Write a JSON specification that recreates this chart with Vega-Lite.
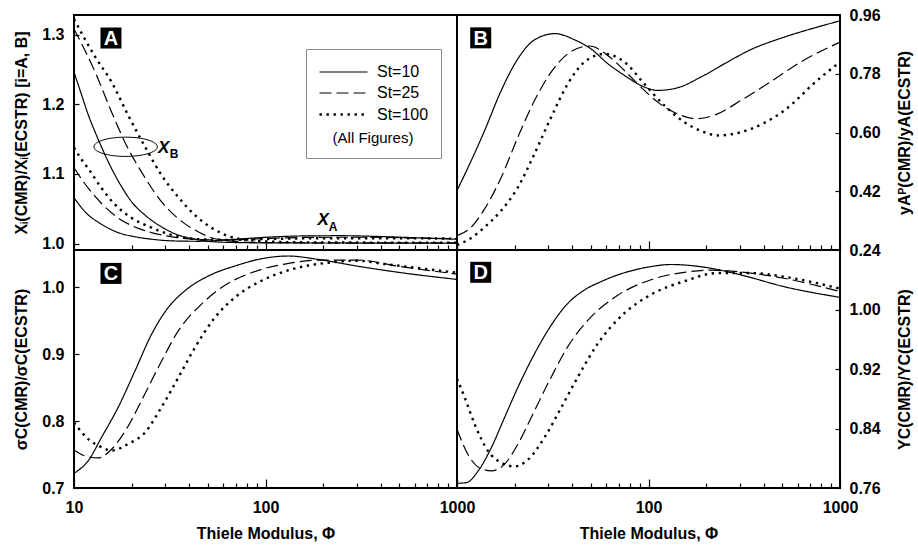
{
  "$schema": "https://vega.github.io/schema/vega-lite/v6.json",
  "background": "white",
  "padding": {"left": 12, "top": 6, "right": 2, "bottom": 5},
  "config": {
    "view": {"stroke": "black", "strokeWidth": 2},
    "font": "Liberation Sans",
    "axis": {
      "domain": false, "grid": false,
      "labelFont": "Liberation Sans", "labelFontSize": 16, "labelFontWeight": "bold", "labelColor": "black",
      "titleFont": "Liberation Sans", "titleFontSize": 16, "titleFontWeight": "bold", "titleColor": "black",
      "tickColor": "black", "tickWidth": 1.2, "labelOverlap": false, "labelFlush": false
    },
    "line": {"color": "black", "interpolate": "monotone", "clip": true}
  },
  "datasets": {
    "A": [
      {"phi":10,"v":1.246,"st":"St=10","var":"XB"},{"phi":10.97,"v":1.213,"st":"St=10","var":"XB"},{"phi":11.9,"v":1.184,"st":"St=10","var":"XB"},{"phi":12.9,"v":1.16,"st":"St=10","var":"XB"},{"phi":13.9,"v":1.139,"st":"St=10","var":"XB"},{"phi":15.7,"v":1.108,"st":"St=10","var":"XB"},{"phi":17.7,"v":1.082,"st":"St=10","var":"XB"},{"phi":20,"v":1.06,"st":"St=10","var":"XB"},{"phi":23.5,"v":1.041,"st":"St=10","var":"XB"},{"phi":28.7,"v":1.024,"st":"St=10","var":"XB"},{"phi":35,"v":1.0125,"st":"St=10","var":"XB"},{"phi":42.8,"v":1.0067,"st":"St=10","var":"XB"},{"phi":52.2,"v":1.003,"st":"St=10","var":"XB"},{"phi":70,"v":1.0017,"st":"St=10","var":"XB"},{"phi":100,"v":1.0012,"st":"St=10","var":"XB"},{"phi":300,"v":1.001,"st":"St=10","var":"XB"},{"phi":1000,"v":1.001,"st":"St=10","var":"XB"},
      {"phi":10,"v":1.308,"st":"St=25","var":"XB"},{"phi":12.9,"v":1.246,"st":"St=25","var":"XB"},{"phi":15.7,"v":1.189,"st":"St=25","var":"XB"},{"phi":18.8,"v":1.141,"st":"St=25","var":"XB"},{"phi":22.5,"v":1.103,"st":"St=25","var":"XB"},{"phi":28.7,"v":1.06,"st":"St=25","var":"XB"},{"phi":35,"v":1.036,"st":"St=25","var":"XB"},{"phi":42.8,"v":1.0196,"st":"St=25","var":"XB"},{"phi":52.2,"v":1.0086,"st":"St=25","var":"XB"},{"phi":65,"v":1.004,"st":"St=25","var":"XB"},{"phi":85,"v":1.002,"st":"St=25","var":"XB"},{"phi":120,"v":1.0015,"st":"St=25","var":"XB"},{"phi":300,"v":1.0012,"st":"St=25","var":"XB"},{"phi":1000,"v":1.0012,"st":"St=25","var":"XB"},
      {"phi":10,"v":1.322,"st":"St=100","var":"XB"},{"phi":12.9,"v":1.268,"st":"St=100","var":"XB"},{"phi":15.7,"v":1.232,"st":"St=100","var":"XB"},{"phi":19.2,"v":1.184,"st":"St=100","var":"XB"},{"phi":23.5,"v":1.139,"st":"St=100","var":"XB"},{"phi":28.7,"v":1.098,"st":"St=100","var":"XB"},{"phi":35,"v":1.067,"st":"St=100","var":"XB"},{"phi":42.8,"v":1.041,"st":"St=100","var":"XB"},{"phi":52.2,"v":1.023,"st":"St=100","var":"XB"},{"phi":63.8,"v":1.011,"st":"St=100","var":"XB"},{"phi":84,"v":1.005,"st":"St=100","var":"XB"},{"phi":120,"v":1.0025,"st":"St=100","var":"XB"},{"phi":200,"v":1.0018,"st":"St=100","var":"XB"},{"phi":1000,"v":1.0015,"st":"St=100","var":"XB"},
      {"phi":10,"v":1.066,"st":"St=10","var":"XA"},{"phi":11.4,"v":1.046,"st":"St=10","var":"XA"},{"phi":13.9,"v":1.028,"st":"St=10","var":"XA"},{"phi":17,"v":1.016,"st":"St=10","var":"XA"},{"phi":20.8,"v":1.01,"st":"St=10","var":"XA"},{"phi":25.4,"v":1.0065,"st":"St=10","var":"XA"},{"phi":33,"v":1.004,"st":"St=10","var":"XA"},{"phi":45,"v":1.0035,"st":"St=10","var":"XA"},{"phi":60,"v":1.005,"st":"St=10","var":"XA"},{"phi":80,"v":1.0075,"st":"St=10","var":"XA"},{"phi":110,"v":1.0098,"st":"St=10","var":"XA"},{"phi":160,"v":1.0112,"st":"St=10","var":"XA"},{"phi":250,"v":1.0115,"st":"St=10","var":"XA"},{"phi":400,"v":1.0103,"st":"St=10","var":"XA"},{"phi":650,"v":1.0083,"st":"St=10","var":"XA"},{"phi":1000,"v":1.0065,"st":"St=10","var":"XA"},
      {"phi":10,"v":1.109,"st":"St=25","var":"XA"},{"phi":11.4,"v":1.086,"st":"St=25","var":"XA"},{"phi":13.9,"v":1.058,"st":"St=25","var":"XA"},{"phi":17,"v":1.037,"st":"St=25","var":"XA"},{"phi":20.8,"v":1.024,"st":"St=25","var":"XA"},{"phi":25.4,"v":1.016,"st":"St=25","var":"XA"},{"phi":33,"v":1.0095,"st":"St=25","var":"XA"},{"phi":45,"v":1.006,"st":"St=25","var":"XA"},{"phi":65,"v":1.0055,"st":"St=25","var":"XA"},{"phi":100,"v":1.0075,"st":"St=25","var":"XA"},{"phi":180,"v":1.0092,"st":"St=25","var":"XA"},{"phi":350,"v":1.0093,"st":"St=25","var":"XA"},{"phi":650,"v":1.008,"st":"St=25","var":"XA"},{"phi":1000,"v":1.0072,"st":"St=25","var":"XA"},
      {"phi":10,"v":1.138,"st":"St=100","var":"XA"},{"phi":11,"v":1.12,"st":"St=100","var":"XA"},{"phi":12,"v":1.106,"st":"St=100","var":"XA"},{"phi":13.9,"v":1.08,"st":"St=100","var":"XA"},{"phi":16.4,"v":1.056,"st":"St=100","var":"XA"},{"phi":20,"v":1.037,"st":"St=100","var":"XA"},{"phi":25.4,"v":1.023,"st":"St=100","var":"XA"},{"phi":33,"v":1.012,"st":"St=100","var":"XA"},{"phi":45,"v":1.0065,"st":"St=100","var":"XA"},{"phi":65,"v":1.0055,"st":"St=100","var":"XA"},{"phi":100,"v":1.0068,"st":"St=100","var":"XA"},{"phi":200,"v":1.0078,"st":"St=100","var":"XA"},{"phi":500,"v":1.0078,"st":"St=100","var":"XA"},{"phi":1000,"v":1.0072,"st":"St=100","var":"XA"}
    ],
    "B": [
      {"phi":10,"v":0.422,"st":"St=10"},{"phi":11.87,"v":0.514,"st":"St=10"},{"phi":13.94,"v":0.606,"st":"St=10"},{"phi":17.03,"v":0.729,"st":"St=10"},{"phi":20.8,"v":0.826,"st":"St=10"},{"phi":25.4,"v":0.884,"st":"St=10"},{"phi":32.55,"v":0.903,"st":"St=10"},{"phi":41.1,"v":0.884,"st":"St=10"},{"phi":50.1,"v":0.856,"st":"St=10"},{"phi":61.3,"v":0.811,"st":"St=10"},{"phi":74.8,"v":0.775,"st":"St=10"},{"phi":91.4,"v":0.744,"st":"St=10"},{"phi":111.6,"v":0.729,"st":"St=10"},{"phi":141.9,"v":0.737,"st":"St=10"},{"phi":187.8,"v":0.77,"st":"St=10"},{"phi":258.6,"v":0.816,"st":"St=10"},{"phi":342.2,"v":0.854,"st":"St=10"},{"phi":510.6,"v":0.892,"st":"St=10"},{"phi":761.8,"v":0.923,"st":"St=10"},{"phi":1000,"v":0.942,"st":"St=10"},
      {"phi":10,"v":0.284,"st":"St=25"},{"phi":11.87,"v":0.31,"st":"St=25"},{"phi":13.94,"v":0.366,"st":"St=25"},{"phi":17.03,"v":0.463,"st":"St=25"},{"phi":20.8,"v":0.586,"st":"St=25"},{"phi":25.4,"v":0.698,"st":"St=25"},{"phi":31.02,"v":0.785,"st":"St=25"},{"phi":37.89,"v":0.841,"st":"St=25"},{"phi":49.15,"v":0.865,"st":"St=25"},{"phi":61.3,"v":0.836,"st":"St=25"},{"phi":74.8,"v":0.79,"st":"St=25"},{"phi":91.4,"v":0.739,"st":"St=25"},{"phi":111.6,"v":0.693,"st":"St=25"},{"phi":141.9,"v":0.657,"st":"St=25"},{"phi":176.8,"v":0.642,"st":"St=25"},{"phi":229.4,"v":0.657,"st":"St=25"},{"phi":303.5,"v":0.698,"st":"St=25"},{"phi":418,"v":0.749,"st":"St=25"},{"phi":623.7,"v":0.816,"st":"St=25"},{"phi":1000,"v":0.877,"st":"St=25"},
      {"phi":10,"v":0.255,"st":"St=100"},{"phi":11.87,"v":0.277,"st":"St=100"},{"phi":13.94,"v":0.31,"st":"St=100"},{"phi":17.03,"v":0.361,"st":"St=100"},{"phi":20.8,"v":0.432,"st":"St=100"},{"phi":25.4,"v":0.535,"st":"St=100"},{"phi":31.02,"v":0.647,"st":"St=100"},{"phi":37.89,"v":0.749,"st":"St=100"},{"phi":46.29,"v":0.816,"st":"St=100"},{"phi":58.87,"v":0.841,"st":"St=100"},{"phi":74.8,"v":0.816,"st":"St=100"},{"phi":95.1,"v":0.749,"st":"St=100"},{"phi":120.9,"v":0.683,"st":"St=100"},{"phi":153.8,"v":0.632,"st":"St=100"},{"phi":195.4,"v":0.601,"st":"St=100"},{"phi":229.4,"v":0.591,"st":"St=100"},{"phi":280,"v":0.596,"st":"St=100"},{"phi":342.2,"v":0.611,"st":"St=100"},{"phi":510.6,"v":0.667,"st":"St=100"},{"phi":761.8,"v":0.76,"st":"St=100"},{"phi":1000,"v":0.816,"st":"St=100"}
    ],
    "C": [
      {"phi":10,"v":0.722,"st":"St=10"},{"phi":11.88,"v":0.741,"st":"St=10"},{"phi":13.94,"v":0.776,"st":"St=10"},{"phi":17.03,"v":0.821,"st":"St=10"},{"phi":20.81,"v":0.875,"st":"St=10"},{"phi":25.42,"v":0.93,"st":"St=10"},{"phi":31.06,"v":0.97,"st":"St=10"},{"phi":37.94,"v":0.995,"st":"St=10"},{"phi":50.22,"v":1.017,"st":"St=10"},{"phi":69.18,"v":1.032,"st":"St=10"},{"phi":100,"v":1.044,"st":"St=10"},{"phi":131.3,"v":1.047,"st":"St=10"},{"phi":188.3,"v":1.042,"st":"St=10"},{"phi":299.6,"v":1.032,"st":"St=10"},{"phi":512.4,"v":1.022,"st":"St=10"},{"phi":1000,"v":1.012,"st":"St=10"},
      {"phi":10,"v":0.757,"st":"St=25"},{"phi":11.41,"v":0.748,"st":"St=25"},{"phi":13.39,"v":0.745,"st":"St=25"},{"phi":15.72,"v":0.758,"st":"St=25"},{"phi":19.21,"v":0.793,"st":"St=25"},{"phi":23.47,"v":0.841,"st":"St=25"},{"phi":28.67,"v":0.89,"st":"St=25"},{"phi":35.03,"v":0.935,"st":"St=25"},{"phi":46.36,"v":0.975,"st":"St=25"},{"phi":58.94,"v":1.0,"st":"St=25"},{"phi":84.5,"v":1.022,"st":"St=25"},{"phi":126.2,"v":1.035,"st":"St=25"},{"phi":200,"v":1.041,"st":"St=25"},{"phi":299.6,"v":1.041,"st":"St=25"},{"phi":512.4,"v":1.031,"st":"St=25"},{"phi":1000,"v":1.02,"st":"St=25"},
      {"phi":10,"v":0.798,"st":"St=100"},{"phi":11.88,"v":0.773,"st":"St=100"},{"phi":13.94,"v":0.761,"st":"St=100"},{"phi":15.72,"v":0.756,"st":"St=100"},{"phi":19.21,"v":0.766,"st":"St=100"},{"phi":23.47,"v":0.783,"st":"St=100"},{"phi":28.67,"v":0.821,"st":"St=100"},{"phi":35.03,"v":0.865,"st":"St=100"},{"phi":42.79,"v":0.91,"st":"St=100"},{"phi":54.41,"v":0.955,"st":"St=100"},{"phi":69.18,"v":0.985,"st":"St=100"},{"phi":95.3,"v":1.01,"st":"St=100"},{"phi":136.7,"v":1.027,"st":"St=100"},{"phi":212.3,"v":1.037,"st":"St=100"},{"phi":299.6,"v":1.04,"st":"St=100"},{"phi":419.4,"v":1.035,"st":"St=100"},{"phi":1000,"v":1.022,"st":"St=100"}
    ],
    "D": [
      {"phi":10,"v":0.7663,"st":"St=10"},{"phi":11.19,"v":0.7672,"st":"St=10"},{"phi":12.87,"v":0.7826,"st":"St=10"},{"phi":15.1,"v":0.8141,"st":"St=10"},{"phi":17.72,"v":0.8548,"st":"St=10"},{"phi":20.8,"v":0.8954,"st":"St=10"},{"phi":25.4,"v":0.9405,"st":"St=10"},{"phi":31.02,"v":0.9788,"st":"St=10"},{"phi":37.89,"v":1.0082,"st":"St=10"},{"phi":46.29,"v":1.0262,"st":"St=10"},{"phi":56.55,"v":1.0375,"st":"St=10"},{"phi":69.07,"v":1.0465,"st":"St=10"},{"phi":99,"v":1.0569,"st":"St=10"},{"phi":131,"v":1.0605,"st":"St=10"},{"phi":195.4,"v":1.0569,"st":"St=10"},{"phi":303.5,"v":1.0465,"st":"St=10"},{"phi":510.6,"v":1.0307,"st":"St=10"},{"phi":1000,"v":1.0163,"st":"St=10"},
      {"phi":10,"v":0.839,"st":"St=25"},{"phi":11.41,"v":0.805,"st":"St=25"},{"phi":13.13,"v":0.787,"st":"St=25"},{"phi":15.1,"v":0.783,"st":"St=25"},{"phi":17.72,"v":0.792,"st":"St=25"},{"phi":20.8,"v":0.819,"st":"St=25"},{"phi":25.4,"v":0.864,"st":"St=25"},{"phi":31.02,"v":0.909,"st":"St=25"},{"phi":37.89,"v":0.95,"st":"St=25"},{"phi":50.1,"v":0.99,"st":"St=25"},{"phi":69.07,"v":1.019,"st":"St=25"},{"phi":103,"v":1.04,"st":"St=25"},{"phi":153.8,"v":1.05,"st":"St=25"},{"phi":211.7,"v":1.053,"st":"St=25"},{"phi":342.2,"v":1.049,"st":"St=25"},{"phi":510.6,"v":1.042,"st":"St=25"},{"phi":1000,"v":1.024,"st":"St=25"},
      {"phi":10,"v":0.907,"st":"St=100"},{"phi":10.96,"v":0.882,"st":"St=100"},{"phi":12.36,"v":0.846,"st":"St=100"},{"phi":14.5,"v":0.81,"st":"St=100"},{"phi":17.03,"v":0.794,"st":"St=100"},{"phi":19.98,"v":0.789,"st":"St=100"},{"phi":23.45,"v":0.798,"st":"St=100"},{"phi":28.64,"v":0.828,"st":"St=100"},{"phi":34.99,"v":0.868,"st":"St=100"},{"phi":42.7,"v":0.909,"st":"St=100"},{"phi":54.3,"v":0.954,"st":"St=100"},{"phi":74.8,"v":0.995,"st":"St=100"},{"phi":103,"v":1.02,"st":"St=100"},{"phi":153.8,"v":1.038,"st":"St=100"},{"phi":229.4,"v":1.049,"st":"St=100"},{"phi":342.2,"v":1.049,"st":"St=100"},{"phi":510.6,"v":1.044,"st":"St=100"},{"phi":1000,"v":1.028,"st":"St=100"}
    ]
  },
  "columns": 2,
  "spacing": 0,
  "bounds": "flush",
  "resolve": {
    "scale": {"x": "independent", "y": "independent", "strokeDash": "independent", "strokeWidth": "independent"},
    "legend": {"strokeDash": "independent", "strokeWidth": "independent"}
  },
  "concat": [
    {
      "width": 383, "height": 235,
      "resolve": {"axis": {"x": "independent"}},
      "layer": [
        {
          "data": {"name": "A"},
          "mark": {"type": "line"},
          "encoding": {
            "x": {"field": "phi", "type": "quantitative",
              "scale": {"type": "log", "domain": [10, 1000], "nice": false},
              "axis": {"orient": "bottom", "values": [20,30,40,50,60,70,80,90,200,300,400,500,600,700,800,900], "labels": false, "title": null,
                "offset": -5, "tickSize": 5}},
            "y": {"field": "v", "type": "quantitative",
              "scale": {"domain": [0.991, 1.328], "nice": false, "zero": false},
              "axis": {"values": [1, 1.05, 1.1, 1.15, 1.2, 1.25, 1.3], "offset": -5, "tickSize": 5, "labelPadding": 10,
                "labelExpr": "abs(datum.value*10-round(datum.value*10))<0.001 ? format(datum.value,'.1f') : ''",
                "title": "Xᵢ(CMR)/Xᵢ(ECSTR) [i=A, B]", "titlePadding": 12}},
            "strokeDash": {"field": "st", "type": "nominal",
              "scale": {"domain": ["St=10", "St=25", "St=100"], "range": [[1, 0], [12, 5], [2.4, 4.6]]},
              "legend": {"orient": "none", "legendX": 232, "legendY": 34, "title": "(All Figures)", "titleOrient": "bottom",
                "titleAnchor": "middle", "titleFontWeight": "normal", "titleFontSize": 15, "titlePadding": 8, "titleFont": "Liberation Sans",
                "labelFontSize": 16, "labelFont": "Liberation Sans", "labelColor": "black", "titleColor": "black",
                "symbolType": "M-1,0L3.8,0", "symbolSize": 400, "symbolStrokeColor": "black", "labelOffset": 36,
                "rowPadding": 2, "padding": 12, "strokeColor": "#8c8c8c", "fillColor": "white"}},
            "strokeWidth": {"field": "st", "type": "nominal",
              "scale": {"type": "ordinal", "domain": ["St=10", "St=25", "St=100"], "range": [1.2, 1.2, 2.4]}},
            "detail": {"field": "var"}
          }
        },
        {
          "data": {"values": [{"phi": 15.6, "v": 1.295, "t": "A"}]},
          "mark": {"type": "point", "shape": "square", "filled": true, "color": "black", "opacity": 1, "size": 441},
          "encoding": {
            "x": {"field": "phi", "type": "quantitative",
              "axis": {"orient": "bottom", "values": [10, 100, 1000], "labels": false, "title": null, "offset": -9, "tickSize": 9}},
            "y": {"field": "v", "type": "quantitative"}}
        },
        {
          "data": {"values": [{"phi": 15.6, "v": 1.295, "t": "A"}]},
          "mark": {"type": "text", "color": "white", "fontWeight": "bold", "fontSize": 20, "baseline": "middle", "dy": 1},
          "encoding": {"x": {"field": "phi", "type": "quantitative", "axis": null}, "y": {"field": "v", "type": "quantitative"}, "text": {"field": "t"}}
        },
        {
          "data": {"values": [{"phi": 18.6, "v": 1.139}]},
          "mark": {"type": "point", "shape": "M-1,0A1,0.304,0,1,1,1,0A1,0.304,0,1,1,-1,0Z", "filled": false, "stroke": "black", "strokeWidth": 1, "opacity": 1, "size": 4020},
          "encoding": {"x": {"field": "phi", "type": "quantitative", "axis": null}, "y": {"field": "v", "type": "quantitative"}}
        },
        {
          "data": {"values": [{"phi": 29.4, "v": 1.1368, "t": "X"}, {"phi": 200, "v": 1.0335, "t": "X"}]},
          "mark": {"type": "text", "color": "black", "fontWeight": "bold", "fontStyle": "italic", "fontSize": 17, "baseline": "middle"},
          "encoding": {"x": {"field": "phi", "type": "quantitative", "axis": null}, "y": {"field": "v", "type": "quantitative"}, "text": {"field": "t"}}
        },
        {
          "data": {"values": [{"phi": 33.3, "v": 1.1288, "t": "B"}, {"phi": 225.5, "v": 1.0242, "t": "A"}]},
          "mark": {"type": "text", "color": "black", "fontWeight": "bold", "fontSize": 12, "baseline": "middle"},
          "encoding": {"x": {"field": "phi", "type": "quantitative", "axis": null}, "y": {"field": "v", "type": "quantitative"}, "text": {"field": "t"}}
        }
      ]
    },
    {
      "width": 383, "height": 235,
      "resolve": {"axis": {"x": "independent"}},
      "layer": [
        {
          "data": {"name": "B"},
          "mark": {"type": "line"},
          "encoding": {
            "x": {"field": "phi", "type": "quantitative",
              "scale": {"type": "log", "domain": [10, 1000], "nice": false},
              "axis": {"orient": "bottom", "values": [20,30,40,50,60,70,80,90,200,300,400,500,600,700,800,900], "labels": false, "title": null,
                "offset": -5, "tickSize": 5}},
            "y": {"field": "v", "type": "quantitative",
              "scale": {"domain": [0.24, 0.96], "nice": false, "zero": false},
              "axis": {"orient": "right", "values": [0.24, 0.33, 0.42, 0.51, 0.6, 0.69, 0.78, 0.87, 0.96], "offset": -5, "tickSize": 5, "labelPadding": 9,
                "labelExpr": "abs((datum.value-0.24)/0.18-round((datum.value-0.24)/0.18))<0.01 ? format(datum.value,'.2f') : ''",
                "title": "yAᴾ(CMR)/yA(ECSTR)", "titleAngle": 270, "titleBaseline": "top", "titlePadding": 16}},
            "strokeDash": {"field": "st", "type": "nominal",
              "scale": {"domain": ["St=10", "St=25", "St=100"], "range": [[1, 0], [12, 5], [2.4, 4.6]]}, "legend": null},
            "strokeWidth": {"field": "st", "type": "nominal",
              "scale": {"type": "ordinal", "domain": ["St=10", "St=25", "St=100"], "range": [1.2, 1.2, 2.4]}, "legend": null}
          }
        },
        {
          "data": {"values": [{"phi": 13.3, "v": 0.89, "t": "B"}]},
          "mark": {"type": "point", "shape": "square", "filled": true, "color": "black", "opacity": 1, "size": 441},
          "encoding": {
            "x": {"field": "phi", "type": "quantitative",
              "axis": {"orient": "bottom", "values": [10, 100, 1000], "labels": false, "title": null, "offset": -9, "tickSize": 9}},
            "y": {"field": "v", "type": "quantitative"}}
        },
        {
          "data": {"values": [{"phi": 13.3, "v": 0.89, "t": "B"}]},
          "mark": {"type": "text", "color": "white", "fontWeight": "bold", "fontSize": 20, "baseline": "middle", "dy": 1},
          "encoding": {"x": {"field": "phi", "type": "quantitative", "axis": null}, "y": {"field": "v", "type": "quantitative"}, "text": {"field": "t"}}
        }
      ]
    },
    {
      "width": 383, "height": 238,
      "resolve": {"axis": {"x": "independent"}},
      "layer": [
        {
          "data": {"name": "C"},
          "mark": {"type": "line"},
          "encoding": {
            "x": {"field": "phi", "type": "quantitative",
              "scale": {"type": "log", "domain": [10, 1000], "nice": false},
              "axis": {"orient": "bottom", "values": [20,30,40,50,60,70,80,90,200,300,400,500,600,700,800,900], "labels": false, "title": null,
                "offset": -5, "tickSize": 5}},
            "y": {"field": "v", "type": "quantitative",
              "scale": {"domain": [0.7, 1.056], "nice": false, "zero": false},
              "axis": {"values": [0.7, 0.75, 0.8, 0.85, 0.9, 0.95, 1.0, 1.05], "offset": -5, "tickSize": 5, "labelPadding": 10,
                "labelExpr": "abs(datum.value*10-round(datum.value*10))<0.001 ? format(datum.value,'.1f') : ''",
                "title": "σC(CMR)/σC(ECSTR)", "titlePadding": 12}},
            "strokeDash": {"field": "st", "type": "nominal",
              "scale": {"domain": ["St=10", "St=25", "St=100"], "range": [[1, 0], [12, 5], [2.4, 4.6]]}, "legend": null},
            "strokeWidth": {"field": "st", "type": "nominal",
              "scale": {"type": "ordinal", "domain": ["St=10", "St=25", "St=100"], "range": [1.2, 1.2, 2.4]}, "legend": null}
          }
        },
        {
          "data": {"values": [{"phi": 15.6, "v": 1.021, "t": "C"}]},
          "mark": {"type": "point", "shape": "square", "filled": true, "color": "black", "opacity": 1, "size": 441},
          "encoding": {
            "x": {"field": "phi", "type": "quantitative",
              "axis": {"orient": "bottom", "values": [10, 100, 1000], "offset": -9, "tickSize": 9, "labelPadding": 11,
                "labelExpr": "format(datum.value,'d')", "title": "Thiele Modulus, Φ", "titlePadding": 10}},
            "y": {"field": "v", "type": "quantitative"}}
        },
        {
          "data": {"values": [{"phi": 15.6, "v": 1.021, "t": "C"}]},
          "mark": {"type": "text", "color": "white", "fontWeight": "bold", "fontSize": 20, "baseline": "middle", "dy": 1},
          "encoding": {"x": {"field": "phi", "type": "quantitative", "axis": null}, "y": {"field": "v", "type": "quantitative"}, "text": {"field": "t"}}
        }
      ]
    },
    {
      "width": 383, "height": 238,
      "resolve": {"axis": {"x": "independent"}},
      "layer": [
        {
          "data": {"name": "D"},
          "mark": {"type": "line"},
          "encoding": {
            "x": {"field": "phi", "type": "quantitative",
              "scale": {"type": "log", "domain": [10, 1000], "nice": false},
              "axis": {"orient": "bottom", "values": [20,30,40,50,60,70,80,90,200,300,400,500,600,700,800,900], "labels": false, "title": null,
                "offset": -5, "tickSize": 5}},
            "y": {"field": "v", "type": "quantitative",
              "scale": {"domain": [0.76, 1.08], "nice": false, "zero": false},
              "axis": {"orient": "right", "values": [0.76, 0.8, 0.84, 0.88, 0.92, 0.96, 1.0, 1.04], "offset": -5, "tickSize": 5, "labelPadding": 9,
                "labelExpr": "abs((datum.value-0.76)/0.08-round((datum.value-0.76)/0.08))<0.01 ? format(datum.value,'.2f') : ''",
                "title": "YC(CMR)/YC(ECSTR)", "titleAngle": 270, "titleBaseline": "top", "titlePadding": 16}},
            "strokeDash": {"field": "st", "type": "nominal",
              "scale": {"domain": ["St=10", "St=25", "St=100"], "range": [[1, 0], [12, 5], [2.4, 4.6]]}, "legend": null},
            "strokeWidth": {"field": "st", "type": "nominal",
              "scale": {"type": "ordinal", "domain": ["St=10", "St=25", "St=100"], "range": [1.2, 1.2, 2.4]}, "legend": null}
          }
        },
        {
          "data": {"values": [{"phi": 13.3, "v": 1.05, "t": "D"}]},
          "mark": {"type": "point", "shape": "square", "filled": true, "color": "black", "opacity": 1, "size": 441},
          "encoding": {
            "x": {"field": "phi", "type": "quantitative",
              "axis": {"orient": "bottom", "values": [10, 100, 1000], "offset": -9, "tickSize": 9, "labelPadding": 11,
                "labelExpr": "datum.value===10 ? '' : format(datum.value,'d')", "title": "Thiele Modulus, Φ", "titlePadding": 10}},
            "y": {"field": "v", "type": "quantitative"}}
        },
        {
          "data": {"values": [{"phi": 13.3, "v": 1.05, "t": "D"}]},
          "mark": {"type": "text", "color": "white", "fontWeight": "bold", "fontSize": 20, "baseline": "middle", "dy": 1},
          "encoding": {"x": {"field": "phi", "type": "quantitative", "axis": null}, "y": {"field": "v", "type": "quantitative"}, "text": {"field": "t"}}
        }
      ]
    }
  ]
}
